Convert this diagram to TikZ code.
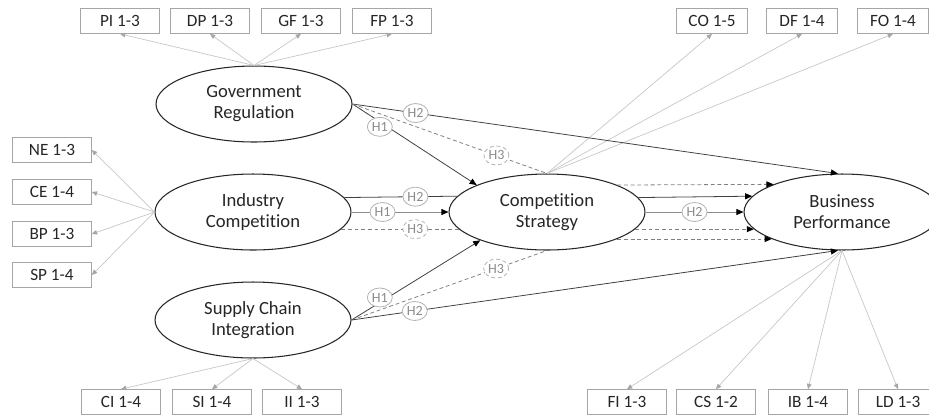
\documentclass[tikz,border=0pt]{standalone}
\usepackage{fontspec}
\setmainfont{Carlito}[Ligatures={NoCommon}]
\usepackage{tikz}
\usetikzlibrary{shapes.geometric,arrows.meta}

\begin{document}
\begin{tikzpicture}[x=0.02cm,y=-0.02cm,
    latent/.style={ellipse, draw=black!85, line width=0.6pt, fill=white, minimum width=3.92cm, minimum height=1.52cm, inner sep=0pt, align=center, text=black!85, font=\fontsize{10.6}{12}\selectfont},
    item/.style={draw=black!35, fill=white, minimum width=1.58cm, minimum height=0.5cm, inner sep=0pt, text=black!85, font=\fontsize{9.8}{11}\selectfont},
    hyp/.style={ellipse, draw=black!30, fill=white, text=black!45, minimum width=0.5cm, minimum height=0.38cm, inner sep=0pt, font=\fontsize{8}{9}\selectfont},
    load/.style={draw=black!22, line width=0.4pt, -{Triangle[length=3pt,width=2.6pt,color=black!35]}},
    effect/.style={draw=black!75, line width=0.45pt, -{Triangle[length=4pt,width=3.4pt,color=black]}},
    light/.style={effect, draw=black!45},
    mediate/.style={draw=black!50, line width=0.45pt, dash pattern=on 2.2pt off 1.6pt},
    medarrow/.style={mediate, -{Triangle[length=4pt,width=3.4pt,color=black]}}]
    \useasboundingbox (0,0) rectangle (929,414);

    % latent variables
    \node[latent] (govreg) at (254,104) {Government\\Regulation};
    \node[latent] (indcomp) at (253,212) {Industry\\Competition};
    \node[latent] (supchain) at (253,320) {Supply Chain\\Integration};
    \node[latent] (compstrat) at (547,212) {Competition\\Strategy};
    \node[latent] (busperf) at (842,212) {Business\\Performance};

    % indicators
    \node[item] (PI) at (120,21) {PI 1-3};
    \node[item] (DP) at (210,21) {DP 1-3};
    \node[item] (GF) at (301,21) {GF 1-3};
    \node[item] (FP) at (392,21) {FP 1-3};
    \node[item] (NE) at (52,150) {NE 1-3};
    \node[item] (CE) at (52,192) {CE 1-4};
    \node[item] (BP) at (52,234) {BP 1-3};
    \node[item] (SP) at (52,275) {SP 1-4};
    \node[item, minimum width=1.42cm] (CO) at (712,21) {CO 1-5};
    \node[item, minimum width=1.42cm] (DF) at (802,21) {DF 1-4};
    \node[item, minimum width=1.42cm] (FO) at (893,21) {FO 1-4};
    \node[item] (CI) at (121,402) {CI 1-4};
    \node[item] (SI) at (212,402) {SI 1-4};
    \node[item] (II) at (302,402) {II 1-3};
    \node[item] (FI) at (627,402) {FI 1-3};
    \node[item] (CS) at (716,402) {CS 1-2};
    \node[item] (IB) at (808,402) {IB 1-4};
    \node[item] (LD) at (898,402) {LD 1-3};

    % measurement arrows
    \foreach \i in {PI,DP,GF,FP} \draw[load] (govreg.north) -- (\i.south);
    \foreach \i in {NE,CE,BP,SP} \draw[load] (indcomp.west) -- (\i.east);
    \foreach \i in {CO,DF,FO} \draw[load] (compstrat.north) -- (\i.south);
    \foreach \i in {CI,SI,II} \draw[load] (supchain.south) -- (\i.north);
    \foreach \i in {FI,CS,IB,LD} \draw[load] (busperf.south) -- (\i.north);

    % government regulation
    \draw[effect] (govreg.east) -- (busperf.96) node[hyp, pos=0.13] (grh2) {H2};
    \draw[effect] (govreg.east) -- (compstrat.159) node[hyp, pos=0.22, yshift=-0.1cm] (grh1) {H1};
    \draw[mediate] (govreg.east) -- (compstrat.north) node[hyp, pos=0.74] (grh3) {H3};

    % industry competition
    \draw[draw=black!75, line width=0.45pt] (indcomp.9.5) -- (compstrat.170.5) node[hyp, pos=0.63] (ich2) {H2};
    \draw[light] (indcomp.east) -- (compstrat.west) node[hyp, pos=0.32] (ich1) {H1};
    \draw[mediate] (indcomp.-11) -- (compstrat.191) node[hyp, pos=0.63] (ich3) {H3};

    % supply chain integration
    \draw[effect] (supchain.east) -- (compstrat.203) node[hyp, pos=0.22, yshift=0.1cm] (sch1) {H1};
    \draw[mediate] (supchain.east) -- (compstrat.south) node[hyp, pos=0.74] (sch3) {H3};
    \draw[effect] (supchain.east) -- (busperf.264) node[hyp, pos=0.13] (sch2) {H2};

    % competition strategy to business performance
    \draw[medarrow] (compstrat.21.4) -- (busperf.158.6);
    \draw[effect] (compstrat.9.5) -- (busperf.170.5);
    \draw[light] (compstrat.east) -- (busperf.west) node[hyp, pos=0.5] (csh2) {H2};
    \draw[medarrow] (compstrat.-11) -- (busperf.191);
    \draw[medarrow] (compstrat.-21.4) -- (busperf.201.4);
\end{tikzpicture}
\end{document}
